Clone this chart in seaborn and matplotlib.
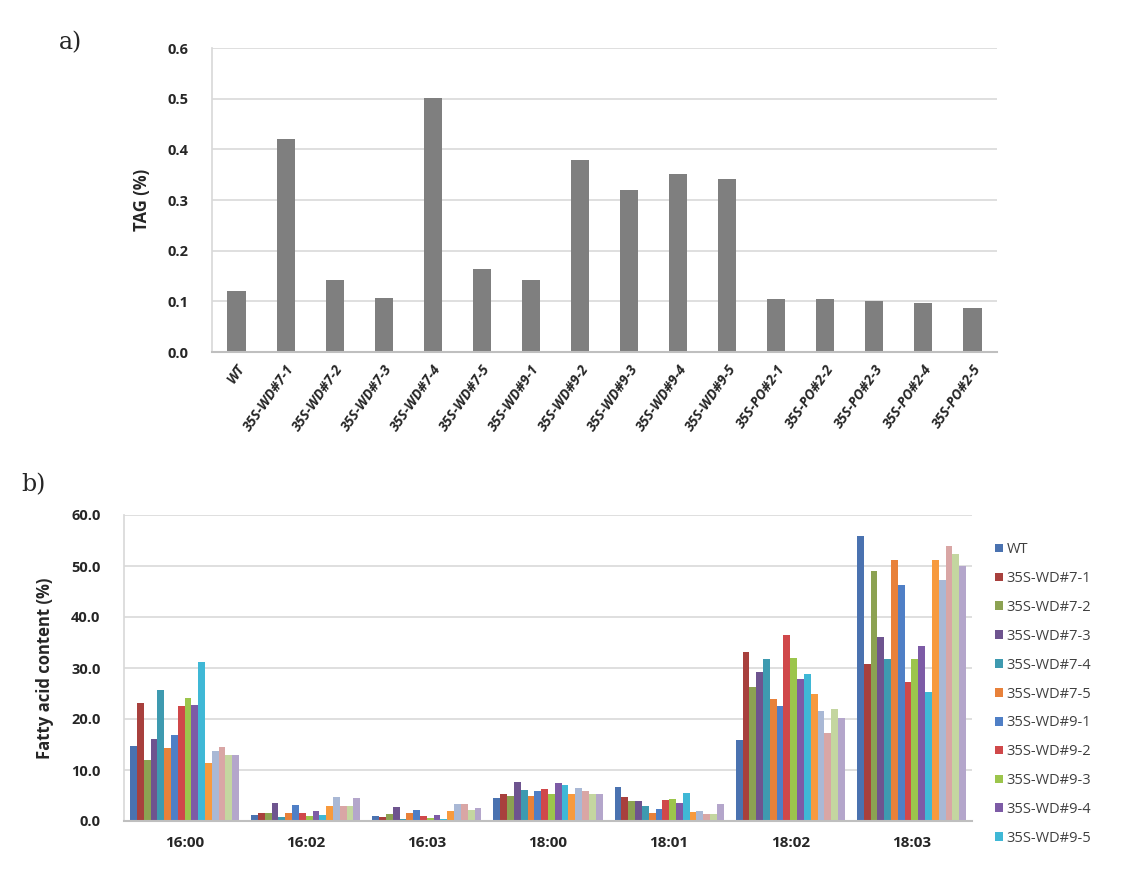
import matplotlib
matplotlib.use("Agg")
import matplotlib.pyplot as plt
import seaborn as sns
import pandas as pd
import numpy as np

# ---------------- data ----------------
lines_a = ["WT", "35S-WD#7-1", "35S-WD#7-2", "35S-WD#7-3", "35S-WD#7-4", "35S-WD#7-5",
           "35S-WD#9-1", "35S-WD#9-2", "35S-WD#9-3", "35S-WD#9-4", "35S-WD#9-5",
           "35S-PO#2-1", "35S-PO#2-2", "35S-PO#2-3", "35S-PO#2-4", "35S-PO#2-5"]
tag_values = [0.121, 0.421, 0.143, 0.107, 0.501, 0.163, 0.143, 0.379, 0.320, 0.352, 0.342,
              0.104, 0.104, 0.100, 0.097, 0.086]

fatty_acids = ["16:00", "16:02", "16:03", "18:00", "18:01", "18:02", "18:03"]
fa_1600 = [14.7, 23.1, 12.0, 16.1, 25.6, 14.4, 16.9, 22.6, 24.2, 22.8, 31.1, 11.4, 13.8, 14.6, 13.0, 13.0]
fa_1602 = [1.1, 1.5, 1.6, 3.5, 0.8, 1.5, 3.2, 1.6, 0.9, 2.0, 1.2, 2.9, 4.8, 2.9, 2.9, 4.6]
fa_1603 = [1.0, 0.8, 1.4, 2.7, 0.3, 1.6, 2.2, 1.0, 0.5, 1.2, 0.4, 1.9, 3.3, 3.3, 2.2, 2.6]
fa_1800 = [4.5, 5.3, 4.9, 7.7, 6.0, 4.9, 5.9, 6.2, 5.2, 7.4, 7.0, 5.3, 6.4, 5.8, 5.3, 5.2]
fa_1801 = [6.6, 4.7, 4.0, 4.0, 2.9, 1.6, 2.3, 4.1, 4.3, 3.5, 5.5, 1.8, 2.0, 1.4, 1.4, 3.3]
fa_1802 = [15.8, 33.1, 26.2, 29.3, 31.7, 24.0, 22.6, 36.5, 32.0, 27.9, 28.8, 24.9, 21.5, 17.2, 21.9, 20.2]
fa_1803 = [55.9, 30.8, 49.0, 36.1, 31.8, 51.1, 46.2, 27.3, 31.7, 34.4, 25.3, 51.1, 47.2, 53.9, 52.3, 50.0]

series_colors = ["#4A72B0", "#A8403D", "#8CA252", "#6E548F", "#3E9AB0", "#E8813A",
                 "#4F7FC6", "#D0484A", "#9CC54C", "#7D5BA6", "#3FB8D6", "#F79A3E",
                 "#A9B8D5", "#D9A6A5", "#C4D6A0", "#B4A6CB"]

# ---------------- build tables ----------------
df_a = pd.DataFrame({"line": lines_a, "tag": tag_values})
fa_table = [fa_1600, fa_1602, fa_1603, fa_1800, fa_1801, fa_1802, fa_1803]
rows = []
for fa, vals in zip(fatty_acids, fa_table):
    for ln, v in zip(lines_a, vals):
        rows.append({"fa": fa, "line": ln, "val": v})
df_b = pd.DataFrame(rows)

# ---------------- figure ----------------
sns.set_theme(style="white")
plt.rcParams["font.family"] = ["Open Sans", "DejaVu Sans"]

fig = plt.figure(figsize=(11.26, 8.73), dpi=100)
grid_c = "#D9D9D9"
txt_c = "#262626"

# ---- panel a ----
ax1 = fig.add_axes([212/1126, 1-352/873, 785/1126, 304/873])
sns.barplot(data=df_a, x="line", y="tag", color="#7F7F7F", width=0.37,
            saturation=1, ax=ax1, edgecolor="none")
ax1.set_ylim(0, 0.6)
ax1.set_yticks(np.arange(0, 0.61, 0.1))
ax1.set_yticklabels([f"{v:.1f}" for v in np.arange(0, 0.61, 0.1)],
                    fontsize=10.5, fontweight="bold", color=txt_c)
ax1.yaxis.grid(True, color=grid_c, linewidth=1.2)
ax1.set_axisbelow(True)
ax1.set_xlabel("")
ax1.set_ylabel("TAG (%)", fontsize=12, fontweight="bold", color=txt_c, labelpad=12)
ax1.set_xticks(range(len(lines_a)))
ax1.set_xticklabels(lines_a, rotation=55, ha="right", rotation_mode="anchor",
                    fontsize=10, fontstyle="italic", fontweight="bold", color=txt_c)
ax1.tick_params(axis="y", length=0, pad=17)
ax1.tick_params(axis="x", length=0, pad=7)
for s in ["top", "right"]:
    ax1.spines[s].set_visible(False)
ax1.spines["left"].set_color(grid_c)
ax1.spines["bottom"].set_color("#BFBFBF")
ax1.spines["bottom"].set_linewidth(1.5)
fig.text(71/1126, 1-43/873, "a)", fontsize=17, family="DejaVu Serif",
         va="center", ha="center")

# ---- panel b ----
ax2 = fig.add_axes([124/1126, 1-821/873, 848/1126, 306/873])
sns.barplot(data=df_b, x="fa", y="val", hue="line", hue_order=lines_a,
            palette=series_colors, width=0.9, gap=0, saturation=1,
            edgecolor="none", ax=ax2)
ax2.set_ylim(0, 60)
ax2.set_xlim(-0.5, len(fatty_acids) - 0.5)
ax2.set_yticks(np.arange(0, 61, 10))
ax2.set_yticklabels([f"{v:.1f}" for v in np.arange(0, 61, 10)],
                    fontsize=10.5, fontweight="bold", color=txt_c)
ax2.yaxis.grid(True, color=grid_c, linewidth=1.2)
ax2.set_axisbelow(True)
ax2.set_xlabel("")
ax2.set_ylabel("Fatty acid content (%)", fontsize=12, fontweight="bold",
               color=txt_c, labelpad=12)
ax2.set_xticks(range(len(fatty_acids)))
ax2.set_xticklabels(fatty_acids, fontsize=11, fontweight="bold", color=txt_c)
ax2.tick_params(axis="y", length=0, pad=17)
ax2.tick_params(axis="x", length=0, pad=11)
ax2.set_xticks(np.arange(-0.5, len(fatty_acids), 1), minor=True)
ax2.tick_params(axis="x", which="minor", length=4, color="#BFBFBF")
for s in ["top", "right"]:
    ax2.spines[s].set_visible(False)
ax2.spines["left"].set_color(grid_c)
ax2.spines["bottom"].set_color("#BFBFBF")
ax2.spines["bottom"].set_linewidth(1.5)

handles, labels = ax2.get_legend_handles_labels()
ax2.legend(handles[:11], labels[:11], loc="upper left",
           bbox_to_anchor=(1.02, 0.93), frameon=False, fontsize=10.5,
           handlelength=0.55, handleheight=0.55, handletextpad=0.25,
           labelspacing=0.95, labelcolor="#404040", borderaxespad=0)
fig.text(33/1126, 1-485/873, "b)", fontsize=17, family="DejaVu Serif",
         va="center", ha="center")

fig.savefig("out.png", dpi=100)
